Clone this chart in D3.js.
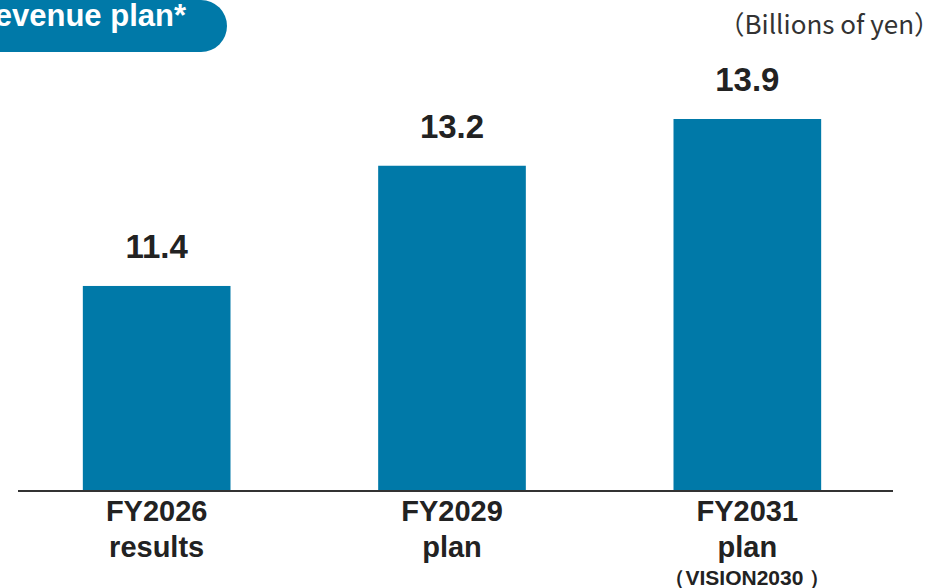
<!DOCTYPE html>
<html>
<head>
<meta charset="utf-8">
<script src="https://cdn.jsdelivr.net/npm/d3@7"></script>
<style>
  html, body { margin: 0; padding: 0; background: #fff; }
  svg { display: block; }
</style>
</head>
<body>
<div id="chart"></div>
<script>
const categories = ["FY2026", "FY2029", "FY2031"];
const values = [11.4, 13.2, 13.9];
const subLabels = ["results", "plan", "plan"];
const noteLabels = ["", "", "（VISION2030 ）"];
const title = "Revenue plan*";
const unit = "（Billions of yen）";

const W = 948, H = 588;
const teal = "#0079a8";
const ink = "#222";

const svg = d3.select("#chart")
    .append("svg")
    .attr("width", W)
    .attr("height", H);

const x = d3.scaleBand()
    .domain(categories)
    .range([9, 895])
    .paddingInner(0.5)
    .paddingOuter(0.25);

// the axis does not start at zero in the original
const y = d3.scaleLinear()
    .domain([8.33, 13.9])
    .range([491, 119]);

// title pill, cut off at the left edge like the original
svg.append("path")
    .attr("fill", teal)
    .attr("d", "M-60,0 H201 A26,26 0 0 1 201,52 H-60 Z");

svg.append("text")
    .attr("x", 186)
    .attr("y", 26)
    .attr("text-anchor", "end")
    .attr("fill", "#fff")
    .style("font", "bold 31px 'Liberation Sans', Arial, sans-serif")
    .text(title);

svg.append("text")
    .attr("x", 940)
    .attr("y", 34)
    .attr("text-anchor", "end")
    .attr("fill", "#333")
    .style("font", "26px 'Noto Sans CJK JP', 'Noto Sans', sans-serif")
    .text(unit);

// bars
svg.append("g")
    .selectAll("rect")
    .data(values)
    .join("rect")
    .attr("x", (d, i) => x(categories[i]))
    .attr("y", d => y(d))
    .attr("width", x.bandwidth())
    .attr("height", d => y.range()[0] + 1 - y(d))
    .attr("fill", teal);

// baseline
svg.append("line")
    .attr("x1", 18)
    .attr("x2", 893)
    .attr("y1", 491)
    .attr("y2", 491)
    .attr("stroke", "#333")
    .attr("stroke-width", 2);

// value labels
svg.append("g")
    .selectAll("text")
    .data(values)
    .join("text")
    .attr("x", (d, i) => x(categories[i]) + x.bandwidth() / 2)
    .attr("y", d => y(d) - 28)
    .attr("text-anchor", "middle")
    .attr("fill", ink)
    .style("font", "bold 33px 'Liberation Sans', Arial, sans-serif")
    .text(d => d.toFixed(1));

// category labels
const lab = svg.append("g")
    .attr("text-anchor", "middle")
    .attr("fill", ink)
    .style("font-family", "'Liberation Sans', Arial, sans-serif")
    .style("font-weight", "bold");

categories.forEach((c, i) => {
    const cx = x(c) + x.bandwidth() / 2;
    lab.append("text")
        .attr("x", cx).attr("y", 521)
        .style("font-size", "29px")
        .text(c);
    lab.append("text")
        .attr("x", cx).attr("y", 557)
        .style("font-size", "29px")
        .text(subLabels[i]);
    if (noteLabels[i]) {
        lab.append("text")
            .attr("x", cx).attr("y", 585)
            .style("font-size", "21px")
            .text(noteLabels[i]);
    }
});
</script>
</body>
</html>
